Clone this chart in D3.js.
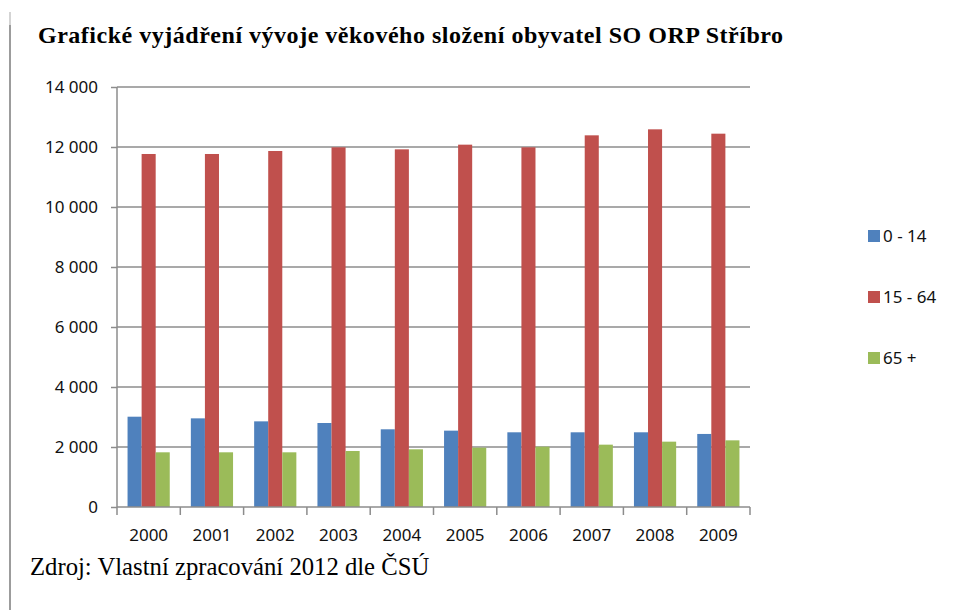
<!DOCTYPE html>
<html>
<head>
<meta charset="utf-8">
<script src="https://cdn.jsdelivr.net/npm/d3@7"></script>
<style>
  body { margin: 0; background: #fff; }
  .canvas svg { display: block; }
</style>
</head>
<body>
<div class="canvas"></div>
<script>
// data
const years = ['2000', '2001', '2002', '2003', '2004', '2005', '2006', '2007', '2008', '2009'];
const seriesNames = ['0 - 14', '15 - 64', '65 +'];
const young = [3010, 2955, 2855, 2800, 2590, 2545, 2490, 2490, 2490, 2435];
const working = [11767, 11767, 11867, 11990, 11922, 12078, 11990, 12389, 12589, 12444];
const old = [1823, 1823, 1823, 1867, 1923, 1978, 2011, 2078, 2178, 2222];
const yTicks = [0, 2000, 4000, 6000, 8000, 10000, 12000, 14000];
const colors = ['#4F81BD', '#C0504D', '#9BBB59'];

const titleText = 'Grafické vyjádření vývoje věkového složení obyvatel SO ORP Stříbro';
const sourceText = 'Zdroj: Vlastní zpracování 2012 dle ČSÚ';

const width = 979;
const height = 610;

const svg = d3.select('.canvas')
  .append('svg')
    .attr('width', width)
    .attr('height', height);

// page border on the left
svg.append('line')
  .attr('x1', 10).attr('x2', 10)
  .attr('y1', 12).attr('y2', 25)
  .attr('stroke', '#d4d4d4')
  .attr('stroke-width', 2);
svg.append('line')
  .attr('x1', 10).attr('x2', 10)
  .attr('y1', 25).attr('y2', height)
  .attr('stroke', '#9c9c9c')
  .attr('stroke-width', 2);

// title + source
svg.append('text')
  .attr('x', 38)
  .attr('y', 43)
  .attr('font-family', '"Liberation Serif", "Times New Roman", serif')
  .attr('font-weight', 'bold')
  .attr('font-size', 24)
  .attr('textLength', 745)
  .attr('lengthAdjust', 'spacing')
  .attr('fill', '#000')
  .text(titleText);

svg.append('text')
  .attr('x', 30)
  .attr('y', 575)
  .attr('font-family', '"Liberation Serif", "Times New Roman", serif')
  .attr('font-size', 24.7)
  .attr('fill', '#000')
  .text(sourceText);

// plot area
const plot = {left: 117, right: 750, top: 87, bottom: 507};

const x0 = d3.scaleBand()
  .domain(years)
  .range([plot.left, plot.right])
  .paddingInner(0)
  .paddingOuter(0);

const x1 = d3.scaleBand()
  .domain(seriesNames)
  .range([0, x0.bandwidth()])
  .paddingInner(0)
  .paddingOuter(0.75);

const y = d3.scaleLinear()
  .domain([0, 14000])
  .range([plot.bottom, plot.top]);

const axisColor = '#8c8c8c';
const labelFont = '"Noto Sans", "Open Sans", sans-serif';
const fmt = d => d3.format(',')(d).replace(/,/g, ' ');

// gridlines
svg.append('g')
  .selectAll('line')
  .data(yTicks.filter(d => d > 0))
  .enter()
  .append('line')
    .attr('x1', plot.left)
    .attr('x2', plot.right)
    .attr('y1', d => y(d))
    .attr('y2', d => y(d))
    .attr('stroke', axisColor)
    .attr('stroke-width', 1.5);

// bars
const table = years.map((yr, i) => ({year: yr, values: [young[i], working[i], old[i]]}));

const groups = svg.append('g')
  .selectAll('g')
  .data(table)
  .enter()
  .append('g')
    .attr('transform', d => `translate(${x0(d.year)}, 0)`);

groups.selectAll('rect')
  .data(d => d.values.map((v, k) => ({name: seriesNames[k], value: v, k})))
  .enter()
  .append('rect')
    .attr('x', d => x1(d.name))
    .attr('width', x1.bandwidth())
    .attr('y', d => y(d.value))
    .attr('height', d => plot.bottom - y(d.value))
    .attr('fill', d => colors[d.k]);

// y axis
const yAxis = d3.axisLeft(y)
  .tickValues(yTicks)
  .tickSize(6)
  .tickPadding(13)
  .tickFormat(fmt);

const yAxisGroup = svg.append('g')
  .attr('transform', `translate(${plot.left}, 0)`)
  .call(yAxis);

// x axis, ticks sit on the band edges
const xAxisGroup = svg.append('g')
  .attr('transform', `translate(0, ${plot.bottom})`)
  .call(d3.axisBottom(x0).tickSize(0).tickPadding(22));

xAxisGroup.selectAll('.edge')
  .data(years.map(yr => x0(yr)).concat([plot.right]))
  .enter()
  .append('line')
    .attr('class', 'edge')
    .attr('x1', d => d).attr('x2', d => d)
    .attr('y1', 0).attr('y2', 8)
    .attr('stroke', axisColor)
    .attr('stroke-width', 1.5);

[yAxisGroup, xAxisGroup].forEach(g => {
  g.select('.domain')
    .attr('stroke', axisColor)
    .attr('stroke-width', 1.5);
  g.selectAll('.tick line')
    .attr('stroke', axisColor)
    .attr('stroke-width', 1.5);
  g.selectAll('text')
    .attr('font-family', labelFont)
    .attr('font-size', 17)
    .attr('fill', '#111');
});
yAxisGroup.select('.domain').attr('d', `M0,${plot.top}V${plot.bottom}`);
xAxisGroup.select('.domain').attr('d', `M${plot.left},0H${plot.right}`);

// legend
const legend = svg.append('g')
  .selectAll('g')
  .data(seriesNames)
  .enter()
  .append('g')
    .attr('transform', (d, i) => `translate(868, ${236 + i * 61})`);

legend.append('rect')
  .attr('x', 0)
  .attr('y', -6)
  .attr('width', 12)
  .attr('height', 12)
  .attr('fill', (d, i) => colors[i]);

legend.append('text')
  .attr('x', 15)
  .attr('y', 0)
  .attr('dy', '0.35em')
  .attr('font-family', labelFont)
  .attr('font-size', 17)
  .attr('fill', '#111')
  .text(d => d);
</script>
</body>
</html>
